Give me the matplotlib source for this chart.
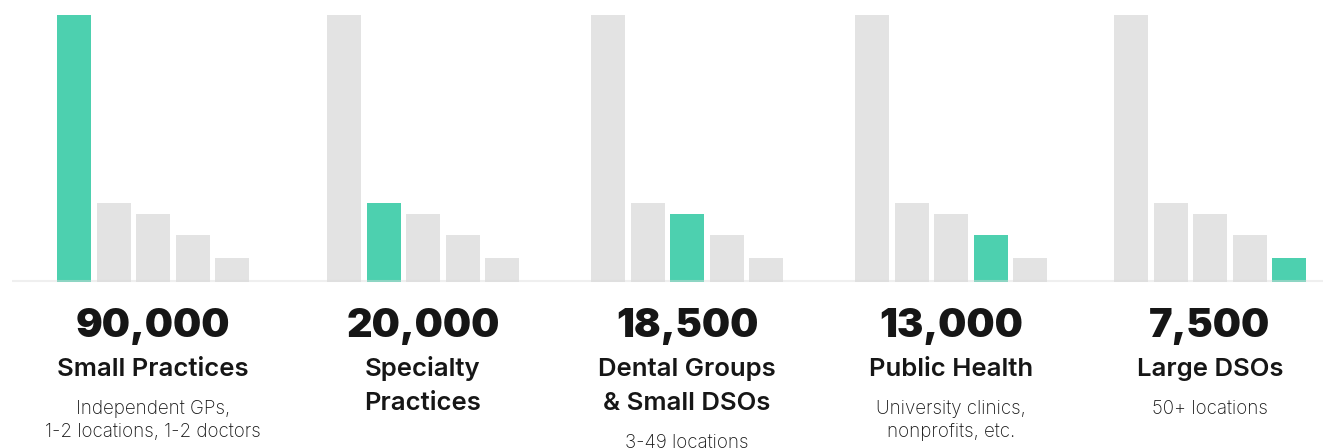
import matplotlib.pyplot as plt
import numpy as np

# 数据
counts = ['90,000', '20,000', '18,500', '13,000', '7,500']
categories = ['Small Practices', 'Specialty\nPractices', 'Dental Groups\n& Small DSOs',
              'Public Health', 'Large DSOs']
subtitles = ['Independent GPs,\n1-2 locations, 1-2 doctors', '', '3-49 locations',
             'University clinics,\nnonprofits, etc.', '50+ locations']
# 柱高（图上读出的相对高度，最高=100）
bar_heights = [100, 29.6, 25.5, 17.6, 9.0]

TEAL = '#4dd0af'
GRAY = '#e3e3e3'
INK = '#161616'
FONT = ['Inter', 'DejaVu Sans']

W, H = 1324, 448
fig = plt.figure(figsize=(W / 100, H / 100), dpi=100)

# 柱状区域：y 像素 15 ~ 282
bar_top, bar_bot = 15, 282
ax = fig.add_axes([0, (H - bar_bot) / H, 1, (bar_bot - bar_top) / H])
ax.set_xlim(0, W)
ax.set_ylim(0, 100)
ax.axis('off')

centers = [153, 423, 687, 951, 1210]
step, width = 39.5, 34
for g, cx in enumerate(centers):
    xs = cx + (np.arange(len(bar_heights)) - 2) * step
    colors = [TEAL if i == g else GRAY for i in range(len(bar_heights))]
    ax.bar(xs, bar_heights, width=width, color=colors, linewidth=0)

# 文字层（像素坐标）
tx = fig.add_axes([0, 0, 1, 1])
tx.set_xlim(0, W)
tx.set_ylim(H, 0)
tx.axis('off')
tx.plot([12, 1323], [281, 281], color='#dcdcdc', lw=1.5, alpha=0.45, solid_capstyle='butt')

for g, cx in enumerate(centers):
    tx.text(cx, 337, counts[g], ha='center', va='baseline', fontsize=28.5,
            fontweight='black', family=FONT, color=INK)
    cat_lines = categories[g].split('\n')
    for k, line in enumerate(cat_lines):
        tx.text(cx, 376 + k * 34, line, ha='center', va='baseline', fontsize=18.5,
                fontweight='semibold', family=FONT, color=INK)
    if subtitles[g]:
        y0 = 376 + (len(cat_lines) - 1) * 34 + 38
        for k, line in enumerate(subtitles[g].split('\n')):
            tx.text(cx, y0 + k * 23, line, ha='center', va='baseline', fontsize=13.5,
                    fontweight='light', family=FONT, color=INK)

fig.savefig('out.png', dpi=100, facecolor='white')
